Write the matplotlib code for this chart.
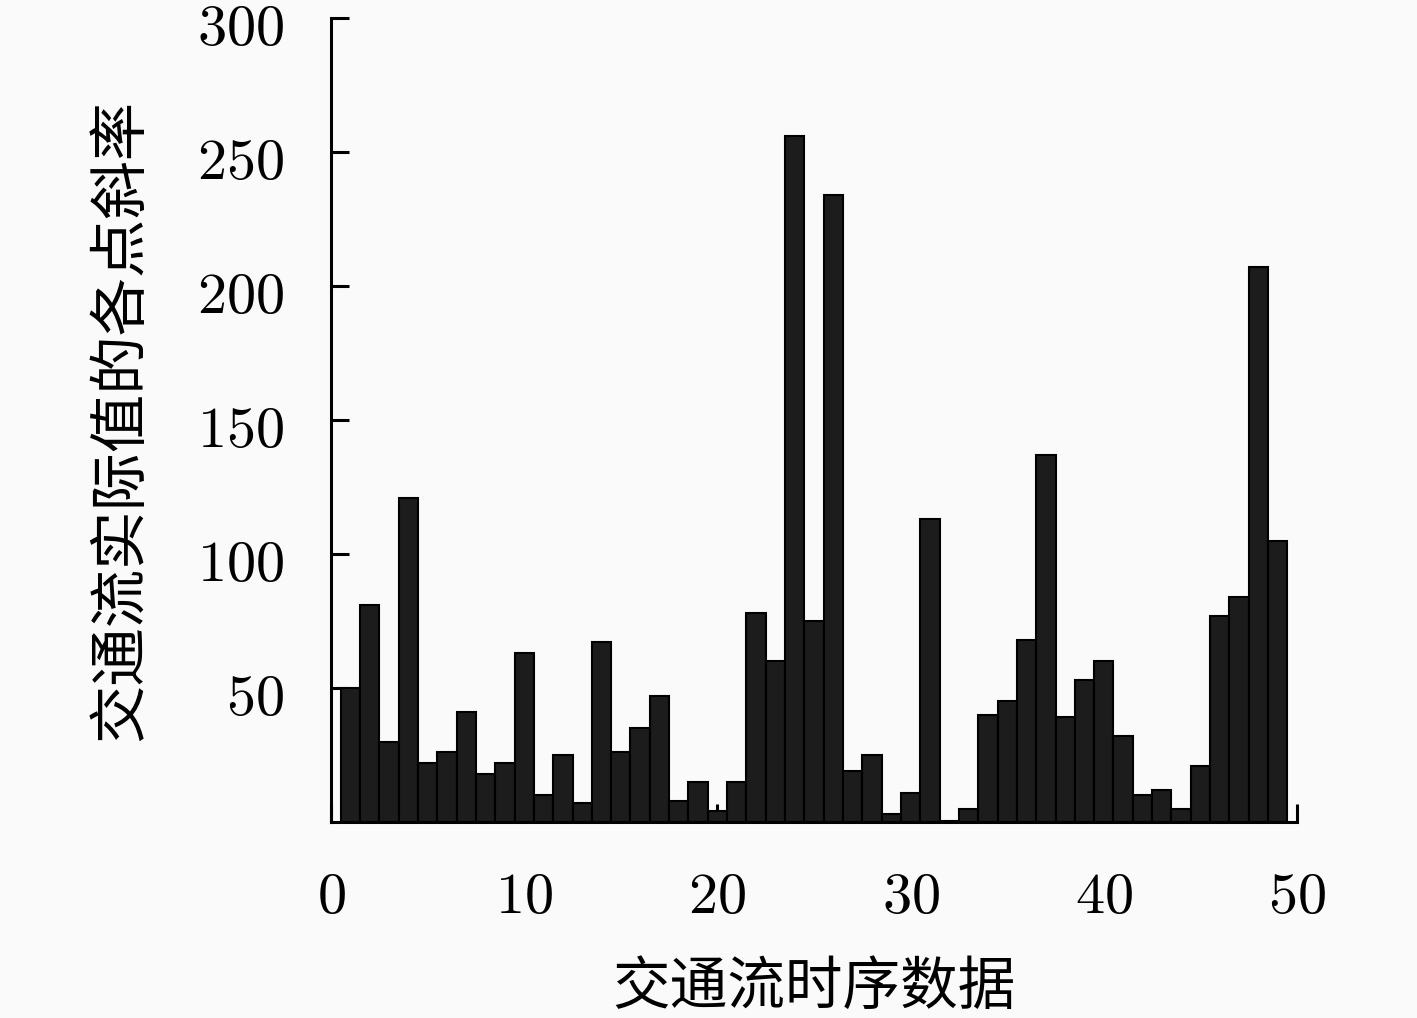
import matplotlib
matplotlib.use("Agg")
import matplotlib.pyplot as plt
import matplotlib.transforms as mtransforms
from matplotlib.ticker import FuncFormatter, FixedLocator

plt.rcParams['mathtext.fontset'] = 'cm'
plt.rcParams['font.family'] = ['Noto Sans CJK SC', 'DejaVu Sans']

positions = list(range(1, 50))
slopes = [50, 81, 30, 121, 22, 26, 41, 18, 22, 63, 10, 25, 7, 67, 26, 35, 47, 8, 15, 4,
          15, 78, 60, 256, 75, 234, 19, 25, 3, 11, 113, 0.5, 5, 40, 45, 68, 137, 39, 53, 60,
          32, 10, 12, 5, 21, 77, 84, 207, 105]
xticks = [0, 10, 20, 30, 40, 50]
yticks = [50, 100, 150, 200, 250, 300]
xlabel = '交通流时序数据'
ylabel = '交通流实际值的各点斜率'

bg = '#fafafa'
fig = plt.figure(figsize=(14.17, 10.18), dpi=100, facecolor=bg)
ax = fig.add_axes([331/1417, 1 - 822/1018, 966/1417, 804/1018])
ax.set_facecolor(bg)

ax.bar(positions, slopes, width=1.0, color='#1c1c1c', edgecolor='black', linewidth=1.5, zorder=2)

ax.set_xlim(0, 50)
ax.set_ylim(0, 300)
ax.xaxis.set_major_locator(FixedLocator(xticks))
ax.yaxis.set_major_locator(FixedLocator(yticks))
fmt = FuncFormatter(lambda v, p: r'$%d$' % v)
ax.xaxis.set_major_formatter(fmt)
ax.yaxis.set_major_formatter(fmt)

for s in ['top', 'right']:
    ax.spines[s].set_visible(False)
for s in ['left', 'bottom']:
    ax.spines[s].set_linewidth(2.2)
    ax.spines[s].set_zorder(3)

ax.tick_params(axis='both', direction='in', length=13, width=2.2, labelsize=42, colors='black')
ax.tick_params(axis='y', pad=34)
ax.tick_params(axis='x', pad=32)

offset = mtransforms.ScaledTranslation(0, -4/100, fig.dpi_scale_trans)
for lab in ax.get_yticklabels():
    lab.set_transform(lab.get_transform() + offset)

ax.set_xlabel(xlabel, fontsize=41.5)
ax.set_ylabel(ylabel, fontsize=42)
ax.xaxis.set_label_coords(0.5, -0.2065)
ax.yaxis.set_label_coords(-0.218, 0.5)
ax.xaxis.label.set_va('center')
ax.yaxis.label.set_va('center')

fig.savefig('out.png', dpi=100, facecolor=bg)
